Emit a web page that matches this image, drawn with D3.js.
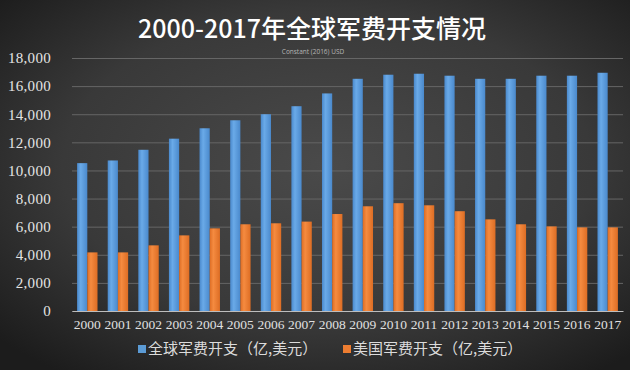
<!DOCTYPE html>
<html>
<head>
<meta charset="utf-8">
<script src="https://cdn.jsdelivr.net/npm/d3@7"></script>
<style>
  html, body { margin: 0; padding: 0; background: #2a2a2a; }
  #chart { width: 630px; height: 370px; }
</style>
</head>
<body>
<div id="chart"></div>
<script>
// years on the x axis
const years = ["2000","2001","2002","2003","2004","2005","2006","2007","2008",
               "2009","2010","2011","2012","2013","2014","2015","2016","2017"]
// global military spending (100m USD)
const worldValues = [10520, 10710, 11470, 12260, 13000, 13570, 14000, 14570, 15480,
                     16520, 16810, 16880, 16740, 16520, 16520, 16740, 16740, 16950]
// US military spending (100m USD)
const usValues = [4170, 4170, 4670, 5380, 5880, 6170, 6240, 6360, 6900,
                  7450, 7670, 7520, 7100, 6520, 6170, 6020, 5950, 5950]
const seriesNames = ["全球军费开支（亿,美元）", "美国军费开支（亿,美元）"]
const yTicks = [0, 2000, 4000, 6000, 8000, 10000, 12000, 14000, 16000, 18000]

const width = 630
const height = 370
const margin = { top: 58, right: 7, bottom: 59, left: 72 }

const svg = d3.select("#chart").append("svg")
  .attr("width", width)
  .attr("height", height)

const defs = svg.append("defs")

// dark background with a soft light spot in the middle
const bg = defs.append("radialGradient").attr("id", "bg")
  .attr("cx", "52%").attr("cy", "45%").attr("r", "70%")
bg.append("stop").attr("offset", "0%").attr("stop-color", "#4a4a4a")
bg.append("stop").attr("offset", "60%").attr("stop-color", "#393939")
bg.append("stop").attr("offset", "100%").attr("stop-color", "#1c1c1c")

// slight shading across each bar
function barGradient(id, light, dark) {
  const g = defs.append("linearGradient").attr("id", id)
    .attr("x1", "0%").attr("x2", "100%").attr("y1", "0%").attr("y2", "0%")
  g.append("stop").attr("offset", "0%").attr("stop-color", dark)
  g.append("stop").attr("offset", "35%").attr("stop-color", light)
  g.append("stop").attr("offset", "100%").attr("stop-color", dark)
}
barGradient("blueBar", "#6aaae8", "#4a89cc")
barGradient("orangeBar", "#f58b40", "#dd6d24")
const colors = ["#5b9bd5", "#ed7d31"]
const fills = ["url(#blueBar)", "url(#orangeBar)"]

svg.append("rect")
  .attr("width", width)
  .attr("height", height)
  .attr("fill", "url(#bg)")

// scales
const x = d3.scaleBand()
  .domain(years)
  .range([margin.left, width - margin.right])
  .paddingInner(0.333)
  .paddingOuter(0.1665)

const xSeries = d3.scaleBand()
  .domain([0, 1])
  .range([0, x.bandwidth()])

const y = d3.scaleLinear()
  .domain([0, 18000])
  .range([height - margin.bottom, margin.top])

// grid lines
svg.append("g")
  .attr("transform", `translate(${margin.left},0)`)
  .call(d3.axisLeft(y).tickValues(yTicks).tickSize(-(width - margin.left - margin.right)).tickFormat(""))
  .call(g => g.select(".domain").remove())
  .call(g => g.selectAll("line").attr("stroke", "#666").attr("stroke-width", 1))

// y axis labels
svg.append("g")
  .attr("transform", `translate(${margin.left - 18},0)`)
  .call(d3.axisLeft(y).tickValues(yTicks).tickSize(0).tickFormat(d3.format(",")))
  .call(g => g.select(".domain").remove())
  .call(g => g.selectAll("text")
    .attr("fill", "#e4e4e4")
    .attr("font-family", "'Liberation Serif', 'DejaVu Serif', serif")
    .attr("font-size", 15)
    .attr("letter-spacing", 0.3))

// bars
const data = [worldValues, usValues]
data.forEach((vals, s) => {
  svg.append("g").selectAll("rect")
    .data(vals)
    .join("rect")
    .attr("x", (d, i) => x(years[i]) + xSeries(s))
    .attr("y", d => y(d))
    .attr("width", xSeries.bandwidth())
    .attr("height", d => y(0) - y(d))
    .attr("fill", fills[s])
})

// x axis
svg.append("g")
  .attr("transform", `translate(0,${y(0)})`)
  .call(d3.axisBottom(x).tickSize(0).tickPadding(8))
  .call(g => g.select(".domain").attr("stroke", "#bdbdbd").attr("stroke-width", 1.2))
  .call(g => g.selectAll("text")
    .attr("fill", "#e0e0e0")
    .attr("font-family", "'Liberation Serif', 'DejaVu Serif', serif")
    .attr("font-size", 13.5))

// title
svg.append("text")
  .attr("x", 312)
  .attr("y", 38)
  .attr("text-anchor", "middle")
  .attr("fill", "#ffffff")
  .attr("font-family", "'Noto Sans CJK SC', sans-serif")
  .attr("font-weight", 500)
  .attr("font-size", 25)
  .text("2000-2017年全球军费开支情况")

svg.append("text")
  .attr("x", 313)
  .attr("y", 54)
  .attr("text-anchor", "middle")
  .attr("fill", "#b5b5b5")
  .attr("font-family", "'Open Sans', sans-serif")
  .attr("font-size", 6.5)
  .text("Constant (2016) USD")

// legend
const legendX = [138, 343]
seriesNames.forEach((name, s) => {
  const g = svg.append("g").attr("transform", `translate(${legendX[s]},349)`)
  g.append("rect")
    .attr("x", 0).attr("y", -4)
    .attr("width", 8).attr("height", 8)
    .attr("fill", colors[s])
  g.append("text")
    .attr("x", 10)
    .attr("y", 0)
    .attr("dy", "0.36em")
    .attr("fill", "#dcdcdc")
    .attr("font-family", "'Noto Sans CJK SC', sans-serif")
    .attr("font-size", 15)
    .text(name)
})
</script>
</body>
</html>
